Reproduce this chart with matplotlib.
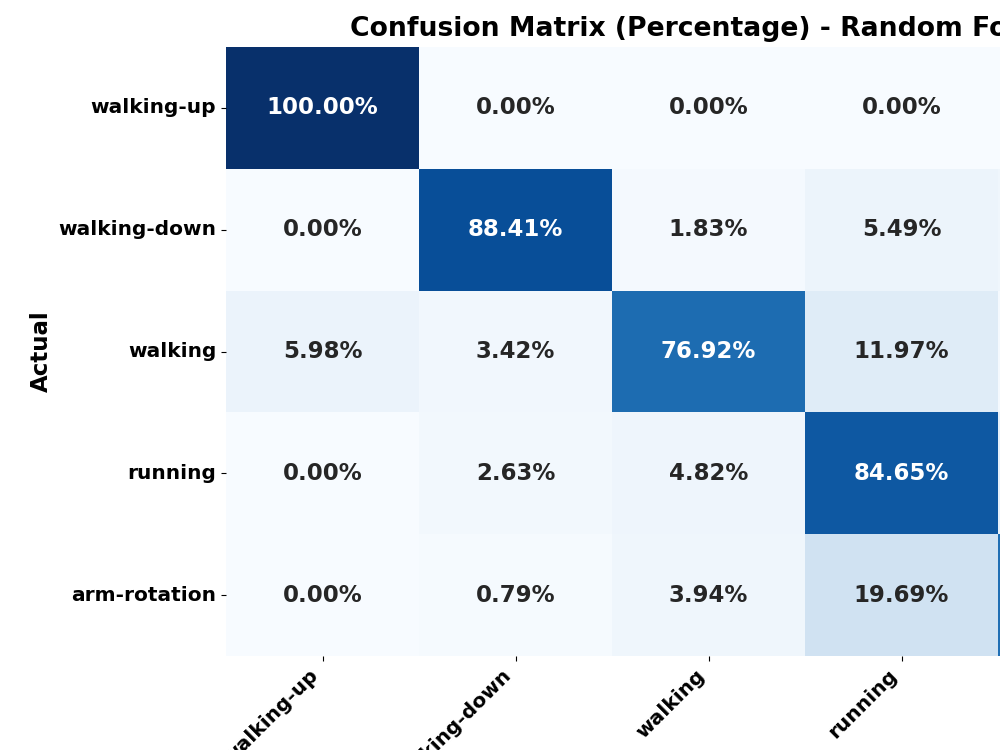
import numpy as np
import matplotlib
matplotlib.use("Agg")
import matplotlib.pyplot as plt
import seaborn as sns

# Klassen (Zeilen = tatsächlich, Spalten = vorhergesagt)
CLASSES = ["walking-up", "walking-down", "walking", "running", "arm-rotation"]

# Prozentwerte je Zeile
ROW_WALKING_UP = [100.00, 0.00, 0.00, 0.00, 0.00]
ROW_WALKING_DOWN = [0.00, 88.41, 1.83, 5.49, 4.27]
ROW_WALKING = [5.98, 3.42, 76.92, 11.97, 1.71]
ROW_RUNNING = [0.00, 2.63, 4.82, 84.65, 7.90]
ROW_ARM_ROTATION = [0.00, 0.79, 3.94, 19.69, 75.58]

if __name__ == "__main__":
    cm = np.array([ROW_WALKING_UP, ROW_WALKING_DOWN, ROW_WALKING,
                   ROW_RUNNING, ROW_ARM_ROTATION])
    labels = np.array([[f"{v:.2f}%" for v in row] for row in cm])

    fig = plt.figure(figsize=(10, 7.5), dpi=100)
    # Heatmap ragt rechts und unten über die Bildkante hinaus (wie im Original)
    ax = fig.add_axes([0.226, 94 / 750, 0.965, 609 / 750])
    cax = fig.add_axes([1.22, 94 / 750, 0.03, 609 / 750])

    sns.heatmap(cm, annot=labels, fmt="", cmap="Blues", vmin=0, vmax=100,
                xticklabels=CLASSES, yticklabels=CLASSES, ax=ax, cbar_ax=cax,
                annot_kws={"size": 16.5, "weight": "bold"})

    ax.set_title("Confusion Matrix (Percentage) - Random Forest",
                 fontsize=19.2, fontweight="bold", pad=8)
    ax.set_ylabel("Actual", fontsize=16.5, fontweight="bold", labelpad=4)
    ax.set_xlabel("Predicted", fontsize=16.5, fontweight="bold")
    plt.setp(ax.get_xticklabels(), rotation=45, ha="right",
             fontsize=14.5, fontweight="bold")
    plt.setp(ax.get_yticklabels(), rotation=0, fontsize=14.5, fontweight="bold")

    fig.savefig("out.png", dpi=100)
